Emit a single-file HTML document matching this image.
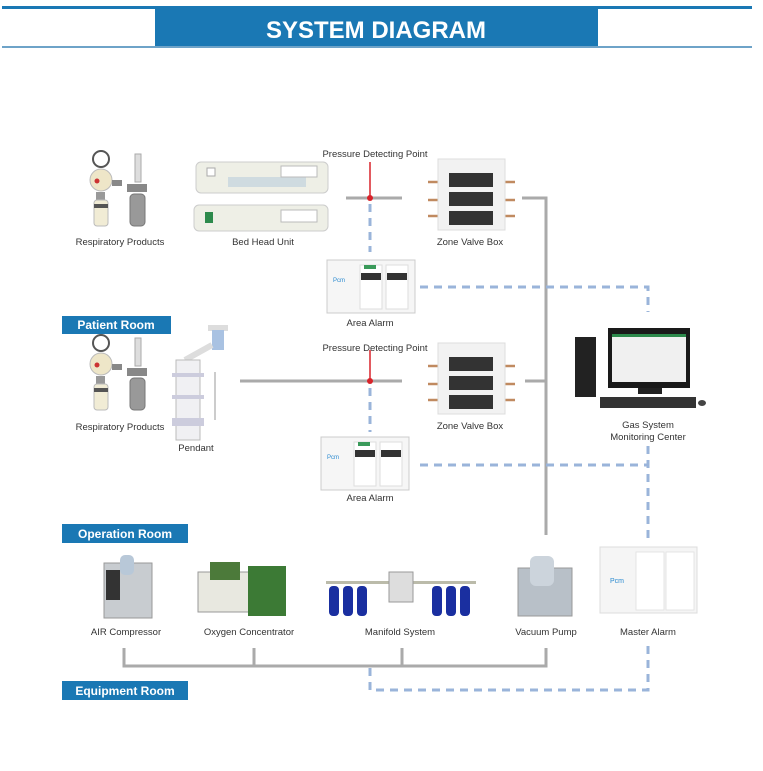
<!DOCTYPE html>
<html><head><meta charset="utf-8"><style>
html,body{margin:0;padding:0;background:#fff;}
svg{display:block;font-family:"Liberation Sans",sans-serif;}
.l{font-size:9.5px;fill:#333;text-anchor:middle;}
</style></head><body>
<svg width="763" height="771" viewBox="0 0 763 771" xmlns="http://www.w3.org/2000/svg">
<!-- header -->
<rect x="2" y="6" width="750" height="3" fill="#1a78b4"/>
<rect x="155" y="8" width="443" height="39" fill="#1a78b4"/>
<rect x="2" y="46" width="750" height="2" fill="#6ea3c8"/>
<text x="376" y="38" font-size="24" font-weight="bold" fill="#fff" text-anchor="middle">SYSTEM DIAGRAM</text>

<!-- gray pipes -->
<g stroke="#aaa" stroke-width="3" fill="none">
<line x1="346" y1="198" x2="402" y2="198"/>
<polyline points="522,198 546,198 546,535"/>
<line x1="240" y1="381" x2="402" y2="381"/>
<line x1="525" y1="381" x2="546" y2="381"/>
<polyline points="124,648 124,666 546,666 546,648"/>
<line x1="254" y1="648" x2="254" y2="666"/>
<line x1="402" y1="648" x2="402" y2="666"/>
</g>
<!-- red -->
<line x1="370" y1="162" x2="370" y2="198" stroke="#d8232a" stroke-width="1.5"/>
<circle cx="370" cy="198" r="3" fill="#d8232a"/>
<line x1="370" y1="350" x2="370" y2="381" stroke="#d8232a" stroke-width="1.5"/>
<circle cx="370" cy="381" r="3" fill="#d8232a"/>
<!-- blue dashed -->
<g stroke="#9ab4da" stroke-width="3" fill="none" stroke-dasharray="8,6">
<line x1="370" y1="204" x2="370" y2="252"/>
<polyline points="420,287 648,287 648,312"/>
<line x1="370" y1="388" x2="370" y2="432"/>
<line x1="420" y1="465" x2="648" y2="465"/>
<line x1="648" y1="446" x2="648" y2="540"/>
<polyline points="370,668 370,690 648,690 648,645"/>
</g>

<!-- room labels -->
<rect x="62" y="316" width="109" height="18" fill="#1a78b4"/>
<text x="116" y="329" font-size="12" font-weight="bold" fill="#fff" text-anchor="middle">Patient Room</text>
<rect x="62" y="524" width="126" height="19" fill="#1a78b4"/>
<text x="125" y="538" font-size="12" font-weight="bold" fill="#fff" text-anchor="middle">Operation Room</text>
<rect x="62" y="681" width="126" height="19" fill="#1a78b4"/>
<text x="125" y="695" font-size="12" font-weight="bold" fill="#fff" text-anchor="middle">Equipment Room</text>

<!-- respiratory products -->
<g id="resp">
<circle cx="101" cy="159" r="8" fill="#fff" stroke="#555" stroke-width="2"/>
<circle cx="101" cy="180" r="11" fill="#eee6c8" stroke="#bbb"/>
<circle cx="97" cy="181" r="2.5" fill="#c33"/>
<rect x="96" y="192" width="9" height="8" fill="#999"/>
<rect x="94" y="200" width="14" height="26" rx="3" fill="#f1ecd5" stroke="#bbb"/>
<rect x="94" y="204" width="14" height="4" fill="#555"/>
<rect x="112" y="180" width="10" height="6" fill="#888"/>
<rect x="135" y="154" width="6" height="28" fill="#ddd" stroke="#aaa"/>
<rect x="127" y="184" width="20" height="8" fill="#888"/>
<rect x="130" y="194" width="15" height="32" rx="4" fill="#999" stroke="#777"/>
</g>
<text class="l" x="120" y="245">Respiratory Products</text>
<use href="#resp" transform="translate(0,184)"/>
<text class="l" x="120" y="430">Respiratory Products</text>

<!-- bed head unit -->
<rect x="196" y="162" width="132" height="31" rx="5" fill="#eeefe6" stroke="#ccc"/>
<rect x="228" y="177" width="78" height="10" fill="#cfdbe0"/>
<rect x="207" y="168" width="8" height="8" fill="#fff" stroke="#aaa"/>
<rect x="281" y="166" width="36" height="11" fill="#fff" stroke="#bbb"/>
<rect x="194" y="205" width="134" height="26" rx="5" fill="#eeefe6" stroke="#ccc"/>
<rect x="205" y="212" width="8" height="11" fill="#2d8a4c"/>
<rect x="281" y="210" width="36" height="12" fill="#fff" stroke="#bbb"/>
<text class="l" x="263" y="245">Bed Head Unit</text>

<!-- pendant -->
<rect x="208" y="325" width="20" height="6" fill="#ddd"/>
<rect x="212" y="330" width="12" height="20" fill="#a9c2e2"/>
<line x1="212" y1="345" x2="185" y2="360" stroke="#ddd" stroke-width="6"/>
<rect x="176" y="360" width="24" height="80" fill="#f0f0f3" stroke="#bbb"/>
<rect x="172" y="373" width="32" height="4" fill="#ccd"/>
<rect x="172" y="395" width="32" height="4" fill="#ccd"/>
<rect x="172" y="418" width="32" height="8" fill="#ccd"/>
<line x1="215" y1="372" x2="215" y2="420" stroke="#999"/>
<text class="l" x="196" y="451">Pendant</text>

<!-- pressure labels -->
<text class="l" x="375" y="157">Pressure Detecting Point</text>
<text class="l" x="375" y="351">Pressure Detecting Point</text>

<!-- zone valve boxes -->
<g id="zvb">
<g stroke="#c08a60" stroke-width="2.5">
<line x1="428" y1="182" x2="438" y2="182"/><line x1="428" y1="200" x2="438" y2="200"/><line x1="428" y1="216" x2="438" y2="216"/>
<line x1="505" y1="182" x2="515" y2="182"/><line x1="505" y1="200" x2="515" y2="200"/><line x1="505" y1="216" x2="515" y2="216"/>
</g>
<rect x="438" y="159" width="67" height="71" fill="#f2f2f2" stroke="#ddd"/>
<rect x="449" y="173" width="44" height="14" fill="#333"/>
<rect x="449" y="192" width="44" height="14" fill="#333"/>
<rect x="449" y="211" width="44" height="14" fill="#333"/>
</g>
<text class="l" x="470" y="245">Zone Valve Box</text>
<use href="#zvb" transform="translate(0,184)"/>
<text class="l" x="470" y="429">Zone Valve Box</text>

<!-- area alarms -->
<g id="aa">
<rect x="327" y="260" width="88" height="53" fill="#f6f6f6" stroke="#ccc"/>
<rect x="360" y="265" width="22" height="44" fill="#fff" stroke="#ddd"/>
<rect x="386" y="265" width="22" height="44" fill="#fff" stroke="#ddd"/>
<rect x="361" y="273" width="20" height="7" fill="#333"/>
<rect x="387" y="273" width="20" height="7" fill="#333"/>
<rect x="364" y="265" width="12" height="4" fill="#3a9a5a"/>
<text x="333" y="282" font-size="6" fill="#2a8ad0">Pcm</text>
</g>
<text class="l" x="370" y="326">Area Alarm</text>
<use href="#aa" transform="translate(-6,177)"/>
<text class="l" x="370" y="501">Area Alarm</text>

<!-- monitoring center -->
<rect x="575" y="337" width="21" height="60" fill="#222"/>
<rect x="608" y="328" width="82" height="60" fill="#1a1a1a"/>
<rect x="612" y="334" width="74" height="48" fill="#f0f0f0"/>
<rect x="612" y="334" width="74" height="3" fill="#2d8a4c"/>
<rect x="638" y="388" width="24" height="6" fill="#222"/>
<rect x="600" y="397" width="96" height="11" fill="#333"/>
<ellipse cx="702" cy="403" rx="4" ry="3" fill="#444"/>
<text class="l" x="648" y="428">Gas System</text>
<text class="l" x="648" y="440">Monitoring Center</text>

<!-- equipment row -->
<rect x="104" y="563" width="48" height="55" fill="#c8ccd0" stroke="#999"/>
<rect x="120" y="555" width="14" height="20" rx="5" fill="#b8c8d8"/>
<rect x="106" y="570" width="14" height="30" fill="#333"/>
<text class="l" x="126" y="635">AIR Compressor</text>

<rect x="198" y="572" width="55" height="40" fill="#e8e8e0" stroke="#999"/>
<rect x="248" y="566" width="38" height="50" fill="#3c7a35"/>
<rect x="210" y="562" width="30" height="18" fill="#4c7a3a"/>
<text class="l" x="249" y="635">Oxygen Concentrator</text>

<rect x="326" y="581" width="150" height="3" fill="#bba"/>
<g fill="#1a2fa0">
<rect x="329" y="586" width="10" height="30" rx="4"/><rect x="343" y="586" width="10" height="30" rx="4"/><rect x="357" y="586" width="10" height="30" rx="4"/>
<rect x="432" y="586" width="10" height="30" rx="4"/><rect x="446" y="586" width="10" height="30" rx="4"/><rect x="460" y="586" width="10" height="30" rx="4"/>
</g>
<rect x="389" y="572" width="24" height="30" fill="#ddd" stroke="#999"/>
<text class="l" x="400" y="635">Manifold System</text>

<rect x="518" y="568" width="54" height="48" fill="#b8c0c8" stroke="#999"/>
<rect x="530" y="556" width="24" height="30" rx="6" fill="#ccd4dc"/>
<text class="l" x="546" y="635">Vacuum Pump</text>

<rect x="600" y="547" width="97" height="66" fill="#f5f5f5" stroke="#ddd"/>
<rect x="636" y="552" width="28" height="58" fill="#fff" stroke="#e4e4e4"/>
<rect x="666" y="552" width="28" height="58" fill="#fff" stroke="#e4e4e4"/>
<text x="610" y="583" font-size="7" fill="#2a8ad0">Pcm</text>
<text class="l" x="648" y="635">Master Alarm</text>
</svg>
</body></html>
